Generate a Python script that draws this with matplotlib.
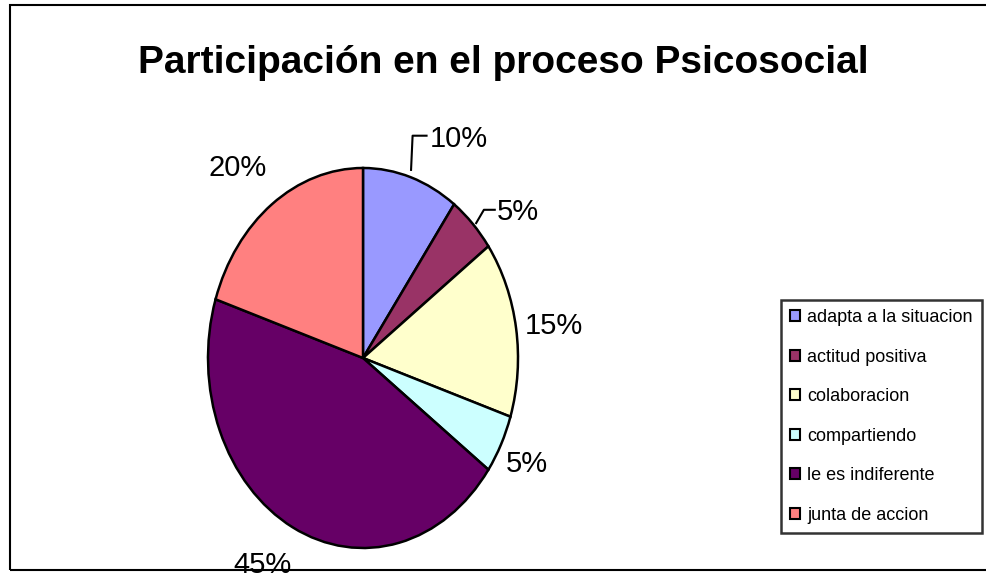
import matplotlib.pyplot as plt
from matplotlib.patches import Rectangle

plt.rcParams['font.family'] = ['Liberation Sans', 'DejaVu Sans']

categories = ['adapta a la situacion', 'actitud positiva', 'colaboracion',
              'compartiendo', 'le es indiferente', 'junta de accion']
values = [10, 5, 15, 5, 45, 20]
labels = ['10%', '5%', '15%', '5%', '45%', '20%']
colors = ['#9999FF', '#993366', '#FFFFCC', '#CCFFFF', '#660066', '#FF8080']

# where each percentage label sits (data coords of the elliptic pie)
label_pos = [(0.43, 1.15), (0.86, 0.77), (1.23, 0.17), (1.06, -0.56),
             (-0.65, -1.09), (-0.81, 1.0)]
label_ha = ['left', 'left', 'center', 'center', 'center', 'center']

W, H = 987, 577
fig = plt.figure(figsize=(W / 100, H / 100), dpi=100)

# pie centre and radii in pixels (pie is an ellipse in the original)
cx, cy, rx, ry = 363, 358, 155, 190
lim = 1.25
ax = fig.add_axes([(cx - rx * lim) / W, (H - cy - ry * lim) / H,
                   2 * rx * lim / W, 2 * ry * lim / H])
wedges, _ = ax.pie(values, colors=colors, startangle=90, counterclock=False,
                   wedgeprops=dict(edgecolor='black', linewidth=1.8))
ax.set_aspect('auto')
ax.set_xlim(-lim, lim)
ax.set_ylim(-lim, lim)

for i, (txt, (x, y)) in enumerate(zip(labels, label_pos)):
    ax.text(x, y, txt, fontsize=21, ha=label_ha[i], va='center',
            clip_on=False, zorder=5)

# leader lines for the two small labels at the top
ax.plot([0.31, 0.32, 0.41], [0.99, 1.17, 1.17], color='black', lw=1.5,
        clip_on=False)
ax.plot([0.73, 0.78, 0.85], [0.71, 0.78, 0.78], color='black', lw=1.5,
        clip_on=False)

fig.text(503 / W, 1 - 63 / H, 'Participación en el proceso Psicosocial',
         fontsize=28, fontweight='bold', ha='center', va='center')

leg = fig.legend(wedges, categories, loc='upper left',
                 bbox_to_anchor=(781 / W, 1 - 300 / H), fontsize=13,
                 frameon=True, fancybox=False, edgecolor='black',
                 handlelength=0.55, handleheight=0.55, handletextpad=0.4,
                 labelspacing=1.25, borderpad=0.5, borderaxespad=0)
leg.get_frame().set_linewidth(1.8)
for h in leg.legend_handles:
    h.set_linewidth(1.5)

fig.patches.append(Rectangle((10 / W, 7 / H), 1.0, 1 - 12 / H,
                             transform=fig.transFigure, fill=False,
                             edgecolor='black', linewidth=1.5, zorder=10))

fig.savefig('out.png', dpi=100)
